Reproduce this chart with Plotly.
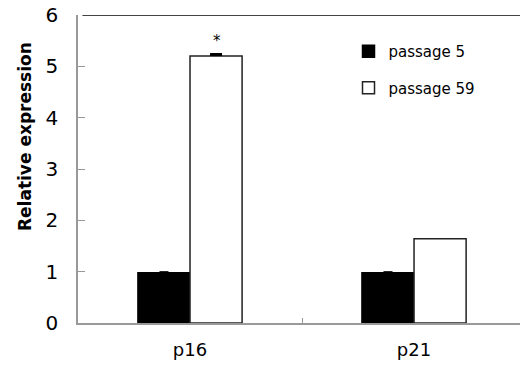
import plotly.graph_objects as go

categories = ["p16", "p21"]
passage5 = [0.98, 0.98]
passage5_err = [0.03, 0.03]
passage59 = [5.2, 1.64]
passage59_err = [0.06, 0.0]
y_ticks = [0, 1, 2, 3, 4, 5, 6]

fig = go.Figure()
fig.add_trace(go.Bar(
    x=categories, y=passage5, name="passage 5", legendgroup="a",
    marker=dict(color="black", line=dict(color="black", width=1.5)),
    error_y=dict(type="data", array=passage5_err, arrayminus=[0, 0], symmetric=False,
                 color="black", thickness=9, width=0),
))
fig.add_trace(go.Bar(
    x=categories, y=passage59, name="passage 59", legendgroup="b",
    marker=dict(color="white", line=dict(color="#222", width=1.5)),
    error_y=dict(type="data", array=passage59_err, arrayminus=[0, 0], symmetric=False,
                 color="black", thickness=12, width=0),
))

fig.add_annotation(x="p16", y=passage59[0] + passage59_err[0], text="*", showarrow=False,
                   xshift=27, yshift=1, yanchor="bottom",
                   font=dict(family="DejaVu Sans", size=15, color="black"))

fig.add_annotation(xref="paper", yref="paper", x=-0.12, y=0.607, text="<b>Relative expression</b>",
                   textangle=-90, showarrow=False, xanchor="center", yanchor="middle",
                   font=dict(family="DejaVu Sans", size=17, color="black"))

fig.add_shape(type="line", xref="paper", yref="y", x0=0.01, x1=1, y0=6, y1=6,
              line=dict(color="#444", width=2))

fig.update_layout(
    width=520, height=365,
    margin=dict(l=78, r=0, t=15, b=42),
    plot_bgcolor="white", paper_bgcolor="white",
    barmode="group", bargap=0.535, bargroupgap=0,
    showlegend=True,
    legend=dict(x=0.612, y=0.935, xanchor="left", yanchor="top",
                font=dict(family="DejaVu Sans", size=15, color="black"),
                itemwidth=30, tracegroupgap=14, traceorder="grouped",
                bgcolor="rgba(0,0,0,0)"),
    xaxis=dict(range=[-0.5, 1.473], showline=True, linecolor="#999", linewidth=1.5,
               ticks="inside", tickson="boundaries", ticklen=5, tickcolor="#999",
               ticklabelstandoff=10,
               tickfont=dict(family="DejaVu Sans", size=18, color="black"),
               showgrid=False, zeroline=False),
    yaxis=dict(range=[0, 6], tickvals=y_ticks, showline=True, linecolor="#999", linewidth=1.5,
               ticks="inside", ticklen=7, tickcolor="#999", ticklabelstandoff=14,
               tickfont=dict(family="DejaVu Sans", size=20, color="black"),
               showgrid=False, zeroline=False),
)

fig.write_html("out.html")
